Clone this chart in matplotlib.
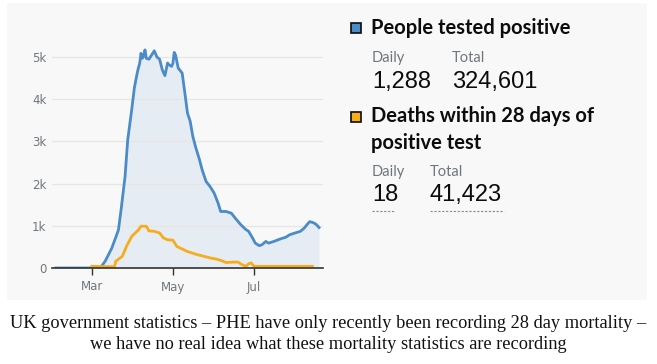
import pandas as pd
import numpy as np
import matplotlib
matplotlib.use('Agg')
import matplotlib.pyplot as plt
from matplotlib.patches import Rectangle
from matplotlib.lines import Line2D

# people tested positive (daily, thousands)
cases_dates = ['2020-02-03', '2020-03-06', '2020-03-08', '2020-03-11', '2020-03-16', '2020-03-21',
               '2020-03-23', '2020-03-26', '2020-03-28', '2020-03-31', '2020-04-02', '2020-04-04',
               '2020-04-05', '2020-04-06', '2020-04-07', '2020-04-08', '2020-04-09', '2020-04-10',
               '2020-04-11', '2020-04-13', '2020-04-15', '2020-04-17', '2020-04-19', '2020-04-21',
               '2020-04-23', '2020-04-25', '2020-04-27', '2020-04-28', '2020-04-30', '2020-05-01',
               '2020-05-02', '2020-05-03', '2020-05-05', '2020-05-08', '2020-05-10', '2020-05-12',
               '2020-05-14', '2020-05-16', '2020-05-18', '2020-05-21', '2020-05-23', '2020-05-26',
               '2020-05-29', '2020-06-01', '2020-06-04', '2020-06-06', '2020-06-10', '2020-06-14',
               '2020-06-17', '2020-06-21', '2020-06-25', '2020-06-27', '2020-06-30', '2020-07-02',
               '2020-07-05', '2020-07-07', '2020-07-10', '2020-07-12', '2020-07-16', '2020-07-21',
               '2020-07-25', '2020-07-28', '2020-08-01', '2020-08-05', '2020-08-08', '2020-08-10',
               '2020-08-12', '2020-08-15', '2020-08-17', '2020-08-19']
cases_k = [0, 0, 0.03, 0.16, 0.47, 0.9,
           1.38, 2.17, 3.04, 3.75, 4.27, 4.6,
           4.74, 4.85, 5.09, 4.97, 5.02, 5.17,
           4.97, 4.95, 5.05, 5.15, 5.0, 4.95,
           4.7, 4.56, 4.86, 4.82, 4.78, 4.85,
           5.11, 5.05, 4.74, 4.62, 4.15, 3.67,
           3.48, 3.12, 2.88, 2.57, 2.33, 2.05,
           1.93, 1.78, 1.54, 1.34, 1.34, 1.3,
           1.18, 1.03, 0.91, 0.87, 0.71, 0.59,
           0.53, 0.55, 0.63, 0.59, 0.63, 0.69,
           0.73, 0.79, 0.83, 0.87, 0.95, 1.03,
           1.1, 1.07, 1.03, 0.96]

# deaths within 28 days of positive test (daily, thousands)
deaths_dates = ['2020-03-01', '2020-03-18', '2020-03-19', '2020-03-24', '2020-03-27', '2020-03-31',
                '2020-04-05', '2020-04-07', '2020-04-11', '2020-04-13', '2020-04-17', '2020-04-21',
                '2020-04-24', '2020-04-27', '2020-05-01', '2020-05-04', '2020-05-08', '2020-05-12',
                '2020-05-15', '2020-05-19', '2020-05-24', '2020-05-29', '2020-06-03', '2020-06-07',
                '2020-06-10', '2020-06-16', '2020-06-19', '2020-06-22', '2020-06-25', '2020-06-27',
                '2020-06-29', '2020-07-01', '2020-08-14']
deaths_k = [0.04, 0.03, 0.16, 0.28, 0.51, 0.75,
            0.9, 0.99, 0.99, 0.88, 0.87, 0.83,
            0.71, 0.67, 0.66, 0.51, 0.45, 0.39,
            0.36, 0.32, 0.28, 0.24, 0.21, 0.17,
            0.13, 0.14, 0.14, 0.08, 0.04, 0.1,
            0.12, 0.04, 0.04]

yticks = [0, 1, 2, 3, 4, 5]
ytick_labels = ['0', '1k', '2k', '3k', '4k', '5k']
xtick_dates = ['2020-03-01', '2020-05-01', '2020-07-01']
xtick_labels = ['Mar', 'May', 'Jul']

legend_titles = ['People tested positive', 'Deaths within 28 days of\npositive test']
daily_vals = ['1,288', '18']
total_vals = ['324,601', '41,423']
caption = ('UK government statistics \u2013 PHE have only recently been recording 28 day mortality \u2013\n'
           'we have no real idea what these mortality statistics are recording')

blue = '#4a8bc8'
orange = '#f7ac1b'
grey_txt = '#6f777b'
panel = '#f8f8f8'

fig = plt.figure(figsize=(6.57, 3.64), dpi=100)
W, H = 657, 364

def fx(px):
    return px / W

def fy(py):
    return 1 - py / H

# grey panel behind chart + legend
fig.add_artist(Rectangle((fx(7), fy(300)), fx(640), 297 / H, transform=fig.transFigure,
                         facecolor=panel, edgecolor='none', zorder=0))

ax = fig.add_axes([fx(52), fy(268), fx(271), 232 / H])
ax.set_facecolor(panel)
cd = pd.to_datetime(cases_dates)
dd = pd.to_datetime(deaths_dates)
ax.fill_between(cd, cases_k, 0, color='#dfe8f2', alpha=0.7, lw=0, zorder=1)
ax.plot(cd, cases_k, color=blue, lw=2.0, zorder=3, solid_joinstyle='round')
ax.plot(dd, deaths_k, color=orange, lw=2.0, zorder=4, solid_joinstyle='round')

ax.set_ylim(0, 5.5)
ax.set_xlim(pd.Timestamp('2020-01-31'), pd.Timestamp('2020-08-22'))
ax.set_yticks(yticks)
ax.set_yticklabels(ytick_labels)
ax.set_xticks(pd.to_datetime(xtick_dates))
ax.set_xticklabels(xtick_labels)
ax.grid(axis='y', color='#e6e6e6', lw=0.9, zorder=0)
for s in ['top', 'right', 'left']:
    ax.spines[s].set_visible(False)
ax.spines['bottom'].set_color('#333333')
ax.spines['bottom'].set_linewidth(1.2)
ax.spines['bottom'].set_zorder(5)
ax.tick_params(axis='y', length=0, pad=4, labelsize=8.5, labelcolor=grey_txt)
ax.tick_params(axis='x', length=5, width=1, color='#333333', pad=4, labelsize=8.5, labelcolor=grey_txt)

# legend / headline figures
sq_y = [23, 112]
daily_y = [58, 172]
num_y = [82, 195]
total_x = [452, 430]
colors = [blue, orange]
title_lines = [(legend_titles[0], 28), (legend_titles[1].split('\n')[0], 116),
               (legend_titles[1].split('\n')[1], 143)]
for txt, y in title_lines:
    fig.text(fx(371), fy(y), txt, fontsize=14.5, fontweight='bold',
             color='#0b0c0c', va='center', family=['Lato', 'DejaVu Sans'])
for i in range(2):
    fig.add_artist(Rectangle((fx(351), fy(sq_y[i] + 10)), fx(10), 10 / H, transform=fig.transFigure,
                             facecolor=colors[i], edgecolor='#0b0c0c', lw=1.2))
    fig.text(fx(372), fy(daily_y[i]), 'Daily', fontsize=10.5, color=grey_txt, va='center',
             family=['Lato', 'DejaVu Sans'])
    fig.text(fx(total_x[i]), fy(daily_y[i]), 'Total', fontsize=10.5, color=grey_txt, va='center',
             family=['Lato', 'DejaVu Sans'])
    fig.text(fx(372), fy(num_y[i]), daily_vals[i], fontsize=17, color='#0b0c0c', va='center',
             family=['Liberation Sans', 'DejaVu Sans'])
    fig.text(fx(total_x[i]), fy(num_y[i]), total_vals[i], fontsize=17, color='#0b0c0c', va='center',
             family=['Liberation Sans', 'DejaVu Sans'])

# dotted underlines under deaths figures
for x0, x1 in [(372, 394), (430, 504)]:
    fig.add_artist(Line2D([fx(x0), fx(x1)], [fy(211), fy(211)], transform=fig.transFigure,
                          color='#8a8a8a', lw=0.8, ls=(0, (2, 1.5))))

fig.text(0.5, fy(334), caption, ha='center', va='center', fontsize=13.2,
         family=['Liberation Serif', 'DejaVu Serif'], color='#111111', linespacing=1.35)

fig.savefig('out.png', dpi=100, facecolor='white')
